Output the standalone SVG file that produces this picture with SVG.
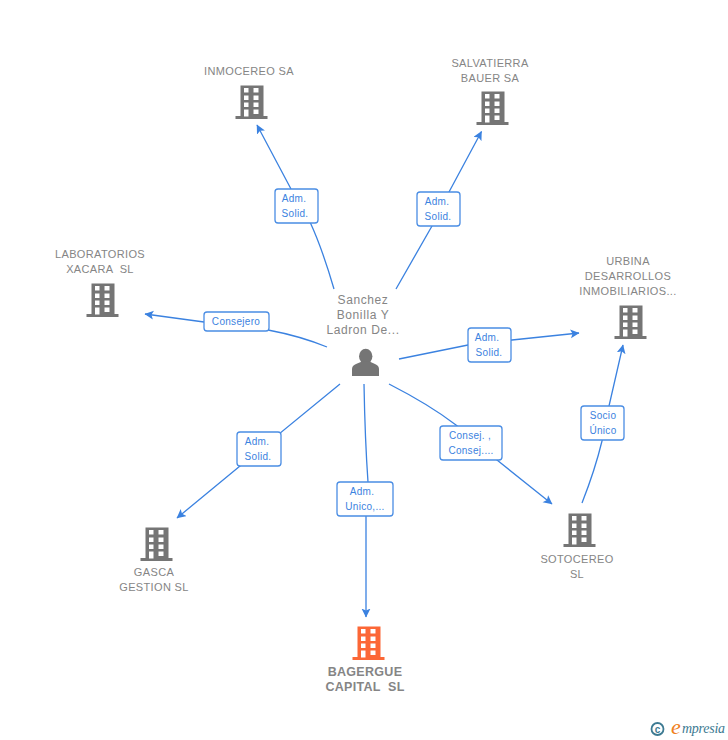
<svg xmlns="http://www.w3.org/2000/svg" xmlns:xlink="http://www.w3.org/1999/xlink" width="728" height="740" viewBox="0 0 728 740">
<style>
text{font-family:"Liberation Sans",Arial,sans-serif;white-space:pre}
.n{font-size:11px;fill:#858585;text-anchor:middle;letter-spacing:.35px}
.p{font-size:12px;fill:#858585;text-anchor:middle;letter-spacing:.6px}
.m{font-size:12.500px;font-weight:bold;fill:#858585;text-anchor:middle;letter-spacing:.3px}
.e{fill:none;stroke:#3b82e0;stroke-width:1.300}
.b{fill:#fff;stroke:#4a8de4;stroke-width:1.300}
.l{font-size:10px;fill:#3b82e0;text-anchor:middle;letter-spacing:.3px}
</style>
<defs>
<marker id="a" markerWidth="12" markerHeight="10" refX="8.500" refY="4.500" orient="auto" markerUnits="userSpaceOnUse"><path d="M0 0L9 4.500L0 9L2 4.500Z" fill="#3b82e0"/></marker>
<g id="bld"><path fill-rule="evenodd" d="M5.500 .5H28.500V31H32.500V34H.5V31H5.500ZM9 3V7.500H13.500V3ZM18.500 3V7.500H23.500V3ZM9 10.500V15H13.500V10.500ZM18.500 10.500V15H23.500V10.500ZM9 17.500V22H13.500V17.500ZM18.500 17.500V22H23.500V17.500ZM9 24.500V31.500H13.500V24.500ZM18.500 24.500V29H23.500V24.500Z"/></g>
</defs>
<g id="connectors">
<path class="e" marker-end="url(#a)" d="M334 289Q322 248 310 222L291 189L257 125"/>
<path class="e" marker-end="url(#a)" d="M396 289L432 226L449 192L481.500 131.500"/>
<path class="e" marker-end="url(#a)" d="M327 347Q300 336 268 330L204 322L145 314"/>
<path class="e" marker-end="url(#a)" d="M399 359L468 345L512 340L579 333"/>
<path class="e" marker-end="url(#a)" d="M340 384L240 466L177 518"/>
<path class="e" marker-end="url(#a)" d="M364 384Q365 440 368 482L366 516L366 617"/>
<path class="e" marker-end="url(#a)" d="M389 384Q430 405 456 425L497 460L552 504"/>
<path class="e" marker-end="url(#a)" d="M582 503Q595 470 602 441L609 406L623 345"/>
</g>
<g id="edge-labels">
<g><rect class="b" x="275" y="189" width="43" height="34" rx="3"/><text class="l" x="294" y="202">Adm.</text><text class="l" x="295" y="217">Solid.</text></g>
<g><rect class="b" x="417" y="192" width="43" height="34" rx="3"/><text class="l" x="437" y="205">Adm.</text><text class="l" x="438" y="220">Solid.</text></g>
<g><rect class="b" x="204" y="312" width="65" height="19" rx="3"/><text class="l" x="236" y="325">Consejero</text></g>
<g><rect class="b" x="468" y="328" width="43" height="34" rx="3"/><text class="l" x="487" y="341">Adm.</text><text class="l" x="489" y="356">Solid.</text></g>
<g><rect class="b" x="237" y="432" width="44" height="34" rx="3"/><text class="l" x="257" y="445">Adm.</text><text class="l" x="258" y="460">Solid.</text></g>
<g><rect class="b" x="337" y="482" width="56" height="34" rx="3"/><text class="l" x="362" y="495">Adm.</text><text class="l" x="365" y="510">Unico,...</text></g>
<g><rect class="b" x="440" y="426" width="62" height="34" rx="3"/><text class="l" x="470" y="439">Consej. ,</text><text class="l" x="471" y="454">Consej....</text></g>
<g><rect class="b" x="581" y="406" width="43" height="34" rx="3"/><text class="l" x="603" y="419">Socio</text><text class="l" x="603" y="434">Único</text></g>
</g>
<g id="n-inmocereo" fill="#757575"><use xlink:href="#bld" href="#bld" x="235" y="85"/><text class="n" x="249" y="75">INMOCEREO SA</text></g>
<g id="n-salvatierra" fill="#757575"><use xlink:href="#bld" href="#bld" x="476" y="91"/><text class="n" x="490" y="67">SALVATIERRA</text><text class="n" x="490" y="82">BAUER SA</text></g>
<g id="n-laboratorios" fill="#757575"><use xlink:href="#bld" href="#bld" x="86" y="283"/><text class="n" x="100" y="258">LABORATORIOS</text><text class="n" x="100" y="273">XACARA  SL</text></g>
<g id="n-urbina" fill="#757575"><use xlink:href="#bld" href="#bld" x="614" y="305"/><text class="n" x="628" y="265">URBINA</text><text class="n" x="628" y="280">DESARROLLOS</text><text class="n" x="628" y="295">INMOBILIARIOS...</text></g>
<g id="n-gasca" fill="#757575"><use xlink:href="#bld" href="#bld" x="140" y="527"/><text class="n" x="154" y="576">GASCA</text><text class="n" x="154" y="591">GESTION SL</text></g>
<g id="n-sotocereo" fill="#757575"><use xlink:href="#bld" href="#bld" x="563" y="513"/><text class="n" x="577" y="563">SOTOCEREO</text><text class="n" x="577" y="578">SL</text></g>
<g id="n-bagergue" fill="#fc6736"><use xlink:href="#bld" href="#bld" x="352" y="626"/><text class="m" x="365" y="676">BAGERGUE</text><text class="m" x="365" y="691">CAPITAL  SL</text></g>
<g id="n-person" fill="#757575"><ellipse cx="365.700" cy="356.300" rx="6.700" ry="7.600"/><path d="M352 376V369Q352 365.500 356 364L362 361.500H369.500L375 364Q379 365.500 379 369V376Z"/><text class="p" x="363" y="304">Sanchez</text><text class="p" x="363" y="319">Bonilla Y</text><text class="p" x="363" y="334">Ladron De...</text></g>
<g id="logo"><circle cx="657.500" cy="729" r="6" fill="none" stroke="#3d7a92" stroke-width="1.800"/><text x="657.500" y="732.500" font-size="10" font-weight="bold" fill="#3d7a92" text-anchor="middle">c</text><text x="671" y="734" font-size="22" font-style="italic" fill="#f08020" style="font-family:'Liberation Serif',serif">e</text><text x="682" y="733" font-size="14" font-style="italic" fill="#3d7a92" textLength="43" style="font-family:'Liberation Serif',serif">mpresia</text></g>
</svg>
